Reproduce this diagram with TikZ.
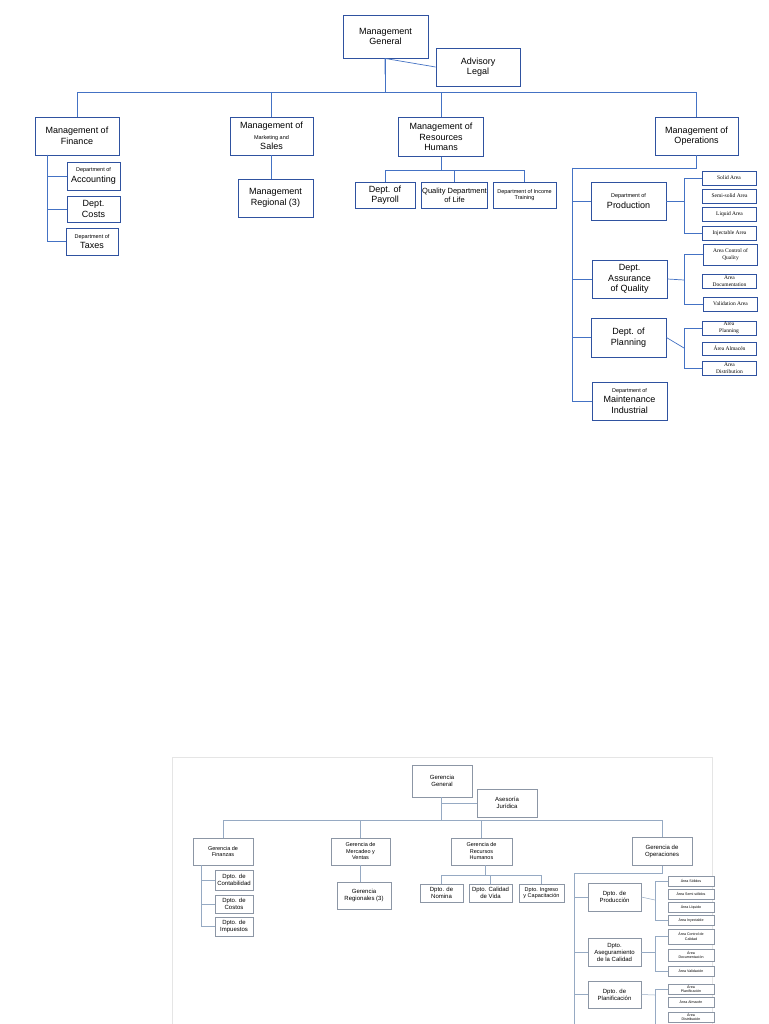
\documentclass[tikz,border=0pt]{standalone}
\usepackage{fontspec}
\setmainfont{Liberation Sans}
\newfontfamily\serifa{Liberation Serif}
\usetikzlibrary{positioning}
\definecolor{cajaazul}{RGB}{47,82,160}
\definecolor{lineaazul}{RGB}{68,114,196}
\definecolor{cajagris}{RGB}{140,150,165}
\definecolor{lineagris}{RGB}{150,170,195}
\tikzset{
	caja/.style={rectangle, draw=cajaazul, line width=0.9pt, fill=white,
		align=center, inner sep=1pt, font=\fontsize{9}{10.5}\selectfont},
	area/.style={caja, line width=0.7pt, minimum width=54pt,
		font=\serifa\fontsize{5.5}{6.5}\selectfont},
	linea/.style={draw=lineaazul, line width=0.7pt},
	cajab/.style={rectangle, draw=cajagris, line width=0.5pt, fill=white,
		align=center, inner sep=1pt, font=\fontsize{6}{7}\selectfont},
	areab/.style={cajab, minimum width=46pt, minimum height=10pt,
		font=\fontsize{3.6}{4.3}\selectfont},
	lineab/.style={draw=lineagris, line width=0.5pt}
}
\newcommand{\chico}{\fontsize{5.5}{6.5}\selectfont}
\begin{document}
\begin{tikzpicture}[x=1pt,y=-1pt]
	\useasboundingbox (0,0) rectangle (768,1024);
	\fill[white] (0,0) rectangle (768,1024);
	% chart in English
	\node[caja, minimum width=85pt, minimum height=43pt] (mg) at (385.5,36.5) {Management\\General};
	\node[caja, minimum width=84pt, minimum height=38pt] (al) at (478,67) {Advisory\\Legal};
	\node[caja, minimum width=84pt, minimum height=38pt] (mf) at (77,136) {Management of\\Finance};
	\node[caja, minimum width=83pt, minimum height=38pt] (mms) at (271.5,136) {Management of\\{\chico Marketing and}\\Sales};
	\node[caja, minimum width=85pt, minimum height=39pt] (mrh) at (441,137) {Management of\\Resources\\Humans};
	\node[caja, minimum width=83pt, minimum height=38pt] (mo) at (696.5,136) {Management of\\Operations};
	\node[caja, minimum width=53pt, minimum height=28pt] (acc) at (93.5,176) {{\chico Department of}\\Accounting};
	\node[caja, minimum width=53pt, minimum height=26pt] (cos) at (93.5,209) {Dept.\\Costs};
	\node[caja, minimum width=52pt, minimum height=27pt] (tax) at (92,241.5) {{\chico Department of}\\Taxes};
	\node[caja, minimum width=75pt, minimum height=38pt] (reg) at (275.5,198) {Management\\Regional (3)};
	\node[caja, minimum width=60pt, minimum height=26pt] (pay) at (385,195) {Dept. of\\Payroll};
	\node[caja, minimum width=59pt, minimum height=26pt, font=\fontsize{7.5}{9}\selectfont] (life) at (454.5,195) {Quality Department\\of Life};
	\node[caja, minimum width=63pt, minimum height=26pt, font=\chico] (train) at (524.5,195) {Department of Income\\Training};
	\node[caja, minimum width=75pt, minimum height=38pt] (prod) at (628.5,201) {{\chico Department of}\\Production};
	\node[caja, minimum width=75pt, minimum height=38pt] (qual) at (629.5,279) {Dept.\\Assurance\\of Quality};
	\node[caja, minimum width=75pt, minimum height=39pt] (plan) at (628.5,337.5) {Dept. of\\Planning};
	\node[caja, minimum width=75pt, minimum height=38pt] (maint) at (629.5,401) {{\chico Department of}\\Maintenance\\Industrial};
	\node[area, minimum height=14pt] (solid) at (729,178) {Solid Area};
	\node[area, minimum height=14pt] (semi) at (729.5,196) {Semi-solid Area};
	\node[area, minimum height=14pt] (liquid) at (729.5,214) {Liquid Area};
	\node[area, minimum height=14pt] (inj) at (729.5,233) {Injectable Area};
	\node[area, minimum height=21pt] (ctrl) at (730.5,254.5) {Area Control of\\Quality};
	\node[area, minimum height=14pt] (docu) at (729.5,281) {Area\\Documentation};
	\node[area, minimum height=14pt] (valid) at (730.5,304) {Validation Area};
	\node[area, minimum height=14pt] (aplan) at (729,328) {Area\\Planning};
	\node[area, minimum height=13pt] (alm) at (729.5,348.5) {Área Almacén};
	\node[area, minimum height=14pt] (dist) at (729.5,368) {Area\\Distribution};
	\coordinate (bus) at (385,92);
	\coordinate (fspine) at (47,155);
	\coordinate (hrj) at (441,170);
	\coordinate (oj) at (572,168);
	\coordinate (pb) at (684,201);
	\coordinate (qb) at (684,280);
	\coordinate (lb) at (684,348);
	\draw[linea] (mg.south -| bus) -- (bus);
	\draw[linea] (mg.south -| bus) ++(0,16) -- (mg.south -| bus |- al.west) -- (al.west);
	\draw[linea] (mf.north) -- (mf.north |- bus) -| (mo.north);
	\foreach \n in {mms,mrh} \draw[linea] (\n.north) -- (\n.north |- bus);
	\foreach \n in {acc,cos,tax} \draw[linea] (fspine) |- (\n.west);
	\draw[linea] (mms.south) -- (mms.south |- reg.north);
	\draw[linea] (mrh.south) -- (hrj);
	\foreach \n in {pay,life,train} \draw[linea] (hrj) -| (\n.north);
	\draw[linea] (mo.south) |- (oj) |- (maint.west);
	\foreach \n in {prod,qual,plan} \draw[linea] (oj) |- (\n.west);
	\draw[linea] (prod.east) -- (pb);
	\draw[linea] (solid.west) -| (pb) |- (inj.west);
	\draw[linea] (qual.east) -- (qb);
	\draw[linea] (ctrl.west) -| (qb) |- (valid.west);
	\draw[linea] (plan.east) -- (lb);
	\draw[linea] (aplan.west) -| (lb) |- (dist.west);
	% chart in Spanish
	\draw[gray!20, line width=0.6pt] (172,757) rectangle (712,1030);
	\node[cajab, minimum width=60pt, minimum height=32pt] (gg) at (442,781) {Gerencia\\General};
	\node[cajab, minimum width=60pt, minimum height=28pt] (aj) at (507,803) {Asesoría\\Jurídica};
	\node[cajab, minimum width=60pt, minimum height=27pt, font=\fontsize{5.5}{6.5}\selectfont] (fin) at (223,851.5) {Gerencia de\\Finanzas};
	\node[cajab, minimum width=59pt, minimum height=27pt, font=\fontsize{5.5}{6.5}\selectfont] (mer) at (360.5,851.5) {Gerencia de\\Mercadeo y\\Ventas};
	\node[cajab, minimum width=61pt, minimum height=27pt, font=\fontsize{5.5}{6.5}\selectfont] (rec) at (481.5,851.5) {Gerencia de\\Recursos\\Humanos};
	\node[cajab, minimum width=60pt, minimum height=28pt] (ope) at (662,851.5) {Gerencia de\\Operaciones};
	\node[cajab, minimum width=38pt, minimum height=20pt] (con) at (234,880) {Dpto. de\\Contabilidad};
	\node[cajab, minimum width=38pt, minimum height=18pt] (cst) at (234,904) {Dpto. de\\Costos};
	\node[cajab, minimum width=38pt, minimum height=19pt] (imp) at (234,926.5) {Dpto. de\\Impuestos};
	\node[cajab, minimum width=54pt, minimum height=27pt] (regb) at (364,895.5) {Gerencia\\Regionales (3)};
	\node[cajab, minimum width=43pt, minimum height=18pt] (nom) at (441.5,893) {Dpto. de\\Nomina};
	\node[cajab, minimum width=43pt, minimum height=18pt] (cal) at (490.5,893) {Dpto. Calidad\\de Vida};
	\node[cajab, minimum width=45pt, minimum height=18pt, font=\fontsize{5.5}{6.5}\selectfont] (ing) at (541.5,893) {Dpto. Ingreso\\y Capacitación};
	\node[cajab, minimum width=53pt, minimum height=28pt] (prd) at (614.5,897) {Dpto. de\\Producción};
	\node[cajab, minimum width=53pt, minimum height=28pt] (ase) at (614.5,952) {Dpto.\\Aseguramiento\\de la Calidad};
	\node[cajab, minimum width=53pt, minimum height=27pt] (pla) at (614.5,994.5) {Dpto. de\\Planificación};
	\node[areab] (sol) at (691,881) {Área Sólidos};
	\node[areab] (sem) at (691,894) {Área Semi sólidos};
	\node[areab] (liq) at (691,907) {Área Líquido};
	\node[areab] (iny) at (691,920) {Área Inyectable};
	\node[areab, minimum height=15pt] (ctl) at (691,936.5) {Área Control de\\Calidad};
	\node[areab, minimum height=12pt] (docb) at (691,955) {Área\\Documentación};
	\node[areab] (valb) at (691,971) {Área Validación};
	\node[areab] (apl) at (691,989) {Área\\Planificación};
	\node[areab] (almb) at (691,1002) {Área Almacén};
	\node[areab] (dis) at (691,1017) {Área\\Distribución};
	\coordinate (busb) at (441,820);
	\coordinate (fspb) at (201,865);
	\coordinate (rj) at (485,875);
	\coordinate (ojb) at (574,873);
	\coordinate (obot) at (574,1024);
	\coordinate (pbb) at (655,900);
	\coordinate (qbb) at (655,952);
	\coordinate (lbb) at (655,995);
	\draw[lineab] (gg.south -| busb) -- (busb);
	\draw[lineab] (busb |- aj.west) -- (aj.west);
	\draw[lineab] (fin.north) -- (fin.north |- busb) -| (ope.north);
	\foreach \n in {mer,rec} \draw[lineab] (\n.north) -- (\n.north |- busb);
	\foreach \n in {con,cst,imp} \draw[lineab] (fspb) |- (\n.west);
	\draw[lineab] (mer.south) -- (mer.south |- regb.north);
	\draw[lineab] (rec.south -| rj) -- (rj);
	\foreach \n in {nom,cal,ing} \draw[lineab] (rj) -| (\n.north);
	\draw[lineab] (ope.south) |- (ojb) -- (obot);
	\foreach \n in {prd,ase,pla} \draw[lineab] (ojb) |- (\n.west);
	\draw[lineab] (prd.east) -- (pbb);
	\draw[lineab] (sol.west) -| (pbb) |- (iny.west);
	\draw[lineab] (ase.east) -- (qbb);
	\draw[lineab] (ctl.west) -| (qbb) |- (valb.west);
	\draw[lineab] (pla.east) -- (lbb);
	\draw[lineab] (apl.west) -| (lbb) |- (obot -| dis.west);
\end{tikzpicture}
\end{document}
